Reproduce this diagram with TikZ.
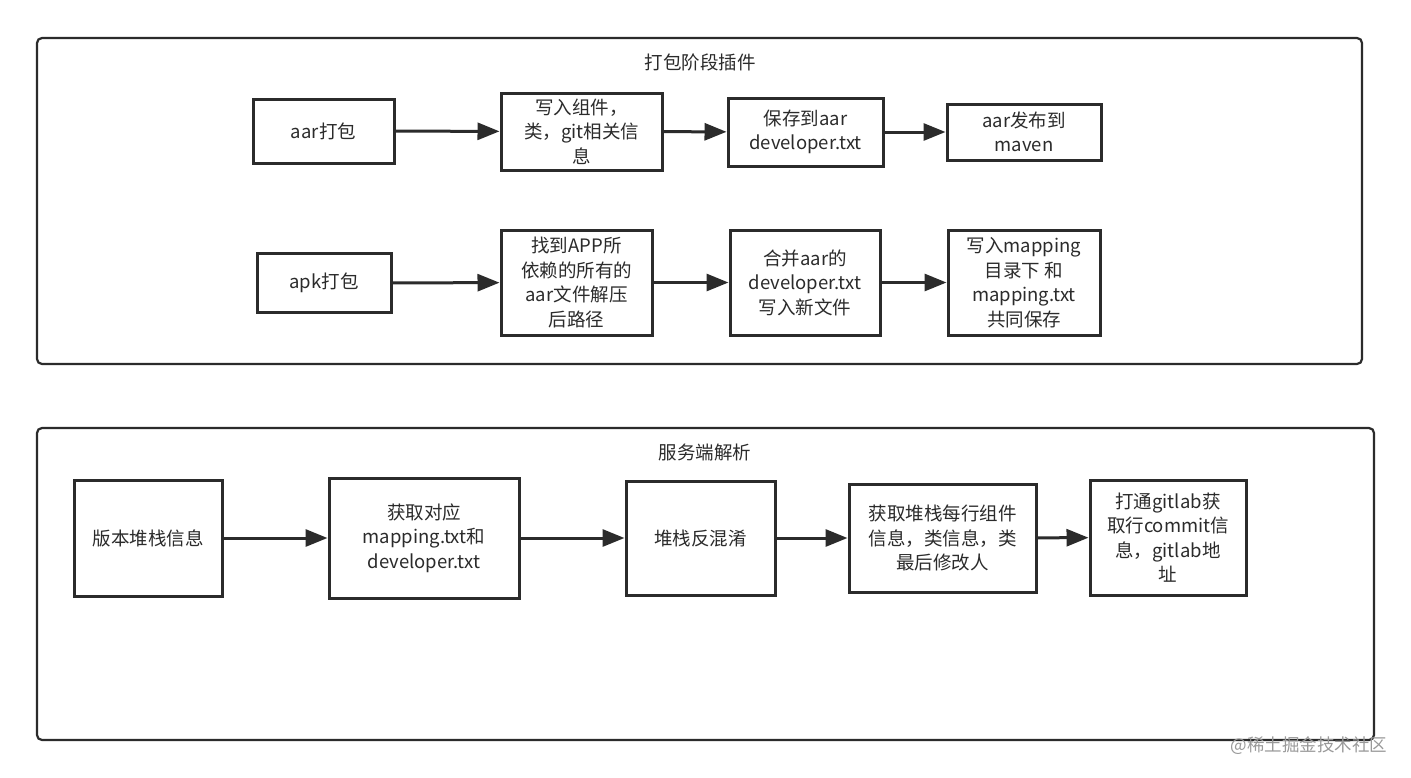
\documentclass[tikz,border=0pt]{standalone}
\usepackage{fontspec}
\setmainfont{Noto Sans CJK SC}
\usetikzlibrary{arrows.meta}
\definecolor{ink}{HTML}{2B2B2B}
\begin{document}
\begin{tikzpicture}[x=1pt,y=-1pt,
  font=\fontsize{18.5}{24.5}\selectfont,
  frame/.style={draw=ink,line width=2.2pt,rounded corners=5pt},
  stepbox/.style={draw=ink,line width=3pt,fill=white,align=center,text=ink,inner sep=0pt},
  flow/.style={draw=ink,line width=3pt,-{Triangle[length=22pt,width=17pt]}},
  title/.style={text=ink}]
\useasboundingbox (0,0) rectangle (1411,777);
\fill[white] (0,0) rectangle (1411,777);
% frames
\draw[frame] (37,38) rectangle (1362,364);
\node[title] (t1) at (700,62) {打包阶段插件};
\draw[frame] (37,428) rectangle (1374,740);
\node[title] (t2) at (705,452) {服务端解析};
% row 1
\node[stepbox,minimum width=141pt,minimum height=64pt] (a1) at (323.5,131) {aar打包};
\node[stepbox,minimum width=161pt,minimum height=77pt] (a2) at (581.5,131.5) {写入组件，\\类，git相关信\\息};
\node[stepbox,minimum width=155pt,minimum height=68pt] (a3) at (805.5,132) {保存到aar\\developer.txt};
\node[stepbox,minimum width=154pt,minimum height=56pt] (a4) at (1024,132) {aar发布到\\maven};
\draw[flow] (a1) -- (a2);
\draw[flow] (a2) -- (a3);
\draw[flow] (a3) -- (a4);
% row 2
\node[stepbox,minimum width=134pt,minimum height=59pt] (b1) at (324,283) {apk打包};
\node[stepbox,minimum width=151pt,minimum height=105pt] (b2) at (576.5,282.5) {找到APP所\\依赖的所有的\\aar文件解压\\后路径};
\node[stepbox,minimum width=150pt,minimum height=105pt] (b3) at (805,282.5) {合并aar的\\developer.txt\\写入新文件};
\node[stepbox,minimum width=152pt,minimum height=105pt] (b4) at (1024,282.5) {写入mapping\\目录下 和\\mapping.txt\\共同保存};
\draw[flow] (b1) -- (b2);
\draw[flow] (b2) -- (b3);
\draw[flow] (b3) -- (b4);
% row 3
\node[stepbox,minimum width=148pt,minimum height=116pt] (c1) at (148,538) {版本堆栈信息};
\node[stepbox,minimum width=190pt,minimum height=120pt] (c2) at (424,538) {获取对应\\mapping.txt和\\developer.txt};
\node[stepbox,minimum width=149pt,minimum height=114pt] (c3) at (700.5,538) {堆栈反混淆};
\node[stepbox,minimum width=187pt,minimum height=108pt] (c4) at (942.5,538) {获取堆栈每行组件\\信息，类信息，类\\最后修改人};
\node[stepbox,minimum width=156pt,minimum height=115pt] (c5) at (1168,537.5) {打通gitlab获\\取行commit信\\息，gitlab地\\址};
\draw[flow] (c1) -- (c2);
\draw[flow] (c2) -- (c3);
\draw[flow] (c3) -- (c4);
\draw[flow] (c4) -- (c5);
% watermark
\node[text=black!40,font=\fontsize{17.5}{20}\selectfont] (wm) at (1309,746) {@稀土掘金技术社区};
\end{tikzpicture}
\end{document}
